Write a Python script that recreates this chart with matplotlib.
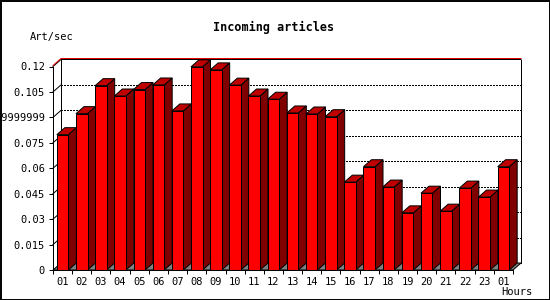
import matplotlib
matplotlib.use("Agg")
import matplotlib.pyplot as plt
import matplotlib.transforms as mtrans
from matplotlib.patches import Polygon, Rectangle
from matplotlib.ticker import FixedLocator, NullFormatter

# ---- data ----
hours = ["01", "02", "03", "04", "05", "06", "07", "08", "09", "10", "11", "12",
         "13", "14", "15", "16", "17", "18", "19", "20", "21", "22", "23", "01"]
art_per_sec = [0.0798, 0.0922, 0.1087, 0.1026, 0.1064, 0.1091, 0.0938, 0.1198,
               0.1180, 0.1090, 0.1026, 0.1007, 0.0926, 0.0920, 0.0904, 0.0518,
               0.0609, 0.0489, 0.0337, 0.0453, 0.0347, 0.0483, 0.0430, 0.0609]
ytick_values = [0, 0.015, 0.03, 0.045, 0.06, 0.075, 0.09, 0.105, 0.12]
ytick_labels = ["0", "0.015", "0.03", "0.045", "0.06", "0.075", "0.0899999999",
                "0.105", "0.12"]
title = "Incoming articles"
ylabel = "Art/sec"
xlabel = "Hours"

FRONT = "#FF0000"
SIDE = "#800000"
TOP = "#C00000"
FLOOR = "#808080"
LW = 0.72  # 1 px at 100 dpi
MONO = "DejaVu Sans Mono"

W, H, DPI = 550, 300, 100
fig = plt.figure(figsize=(W / DPI, H / DPI), dpi=DPI)
fig.patch.set_facecolor("white")

# axes = front plane
ax_l, ax_r, ax_t, ax_b = 53, 513, 66.5, 270
ax = fig.add_axes([ax_l / W, (H - ax_b) / H, (ax_r - ax_l) / W, (ax_b - ax_t) / H])
n = len(hours)
xs = list(range(n))
ax.set_xlim(-0.5, n - 0.5)
ax.set_ylim(0, 0.12)
ax.patch.set_alpha(0)

# depth in data units (8 px right, 7 px up)
p0 = ax.transData.transform((0, 0))
inv = ax.transData.inverted()
dpt = inv.transform((p0[0] + 8, p0[1] + 7))
DX, DY = dpt[0], dpt[1]
x0, x1 = -0.5, n - 0.5
ymax = 0.12

# dotted gridlines on the back wall
for v in ytick_values[1:-1]:
    ax.plot([x0 + DX, x1 + DX], [v + DY, v + DY], color="black", lw=LW,
            linestyle=(0, (2, 2)), clip_on=False, zorder=1, antialiased=False)
    ax.plot([x0, x0 + DX], [v, v + DY], color="black", lw=LW, clip_on=False, zorder=1)

# back wall borders
ax.plot([x0 + DX, x0 + DX], [DY, ymax + DY], color="black", lw=LW, clip_on=False, zorder=1)
ax.plot([x1 + DX, x1 + DX], [DY, ymax + DY], color="black", lw=LW, clip_on=False, zorder=1)
ax.plot([x0, x0 + DX, x1 + DX], [ymax, ymax + DY, ymax + DY], color="black", lw=LW,
        clip_on=False, zorder=1)
up = ax.transData + mtrans.ScaledTranslation(0, 1.0 / DPI, fig.dpi_scale_trans)
ax.plot([x0, x0 + DX, x1 + DX], [ymax, ymax + DY, ymax + DY], color="#E00000", lw=LW,
        clip_on=False, zorder=1, transform=up)

# floor
ax.add_patch(Polygon([(x0, 0), (x1, 0), (x1 + DX, DY), (x0 + DX, DY)], closed=True,
                     facecolor=FLOOR, edgecolor="black", lw=LW, clip_on=False, zorder=1))

# bars
bw = 0.3
for i, (x, h) in enumerate(zip(xs, art_per_sec)):
    z = 2 + i * 0.01
    ax.add_patch(Polygon([(x + bw, 0), (x + bw + DX, DY), (x + bw + DX, h + DY), (x + bw, h)],
                         closed=True, facecolor=SIDE, edgecolor="black", lw=LW,
                         clip_on=False, zorder=z, joinstyle="miter"))
    ax.add_patch(Polygon([(x - bw, h), (x + bw, h), (x + bw + DX, h + DY), (x - bw + DX, h + DY)],
                         closed=True, facecolor=TOP, edgecolor="black", lw=LW,
                         clip_on=False, zorder=z, joinstyle="miter"))
ax.bar(xs, art_per_sec, width=2 * bw, color=FRONT, edgecolor="black", linewidth=LW,
       zorder=3, clip_on=False)

# spines / ticks
for s in ["top", "right"]:
    ax.spines[s].set_visible(False)
for s in ["left", "bottom"]:
    ax.spines[s].set_linewidth(LW)
    ax.spines[s].set_zorder(5)
ax.set_yticks(ytick_values)
ax.set_yticklabels(ytick_labels, family=MONO, fontsize=7.5)
ax.tick_params(axis="y", direction="out", length=2.9, width=LW, pad=2.9)
ax.set_xticks(xs)
ax.set_xticklabels(hours, family=MONO, fontsize=7.5)
ax.tick_params(axis="x", which="major", length=0, pad=5.2)
ax.xaxis.set_minor_locator(FixedLocator([x0 + k for k in range(n + 1)]))
ax.xaxis.set_minor_formatter(NullFormatter())
ax.tick_params(axis="x", which="minor", direction="out", length=3, width=LW)

# texts
fig.text(273.5 / W, 1 - 27 / H, title, family=MONO, fontweight="bold", fontsize=8.5,
         ha="center", va="center")
fig.text(30 / W, 1 - 37 / H, ylabel, family=MONO, fontsize=7.5, ha="left", va="center")
fig.text(533 / W, 1 - 292 / H, xlabel, family=MONO, fontsize=7.5, ha="right", va="center")

# image border
fig.add_artist(Rectangle((0.5 / W, 0.5 / H), 1 - 1.0 / W, 1 - 1.0 / H, transform=fig.transFigure,
                         fill=False, edgecolor="black", lw=1.4))

fig.savefig("out.png", dpi=DPI)
